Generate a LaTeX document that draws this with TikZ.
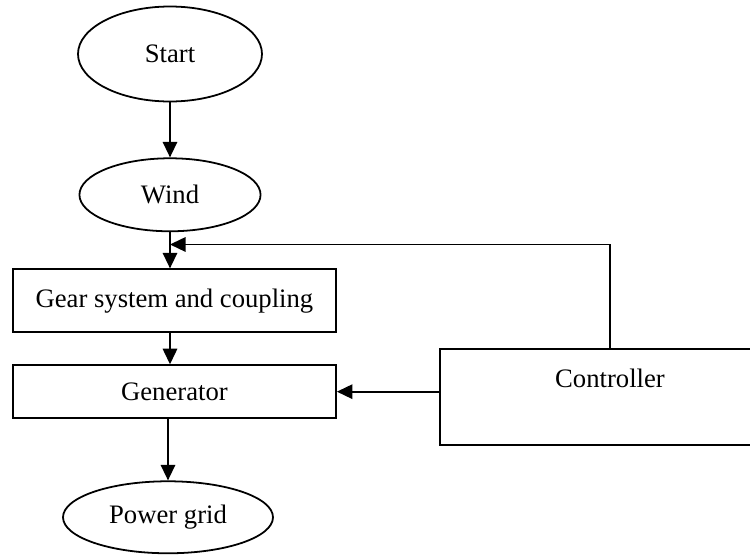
\documentclass[tikz,border=0pt]{standalone}
\usepackage{fontspec}
\setmainfont{Liberation Serif}
\usetikzlibrary{shapes.geometric, arrows.meta, positioning, calc}

\begin{document}
\begin{tikzpicture}[
        node distance=14pt and 46pt,
        >=Triangle,
        font=\fontsize{12}{14}\selectfont,
        oval/.style={ellipse, draw=black, line width=0.8pt, inner sep=0pt},
        box/.style={rectangle, draw=black, line width=0.8pt, inner sep=0pt, minimum width=145.4pt},
        line/.style={-{Triangle[length=7pt, width=6.5pt]}, line width=0.8pt}
    ]
        \useasboundingbox (0,0) rectangle (337.5pt,-249.3pt);

        \node[oval, minimum width=82.8pt, minimum height=42.75pt] (start) at (76.5pt,-24.3pt) {Start};
        \node[oval, minimum width=81.5pt, minimum height=32.85pt, below=24.75pt of start] (wind) {Wind};
        \node[box, minimum height=28.35pt, below=16.3pt of wind, xshift=2pt] (gear) {Gear system and coupling};
        \node[box, minimum height=23.85pt, below=of gear] (gen) {Generator};
        \node[oval, minimum width=94.5pt, minimum height=32.4pt, below=27.6pt of gen, xshift=-2.9pt] (power) {Power grid};
        \node[rectangle, draw=black, line width=0.8pt, inner sep=0pt, minimum width=153pt,
              text height=17.1pt, text depth=26.1pt, right=of gen, yshift=-2.4pt] (ctrl) {Controller};

        \coordinate (fb) at ($(wind.south)!0.34!(wind.south |- gear.north)$);

        \draw[line] (start) -- (wind);
        \draw[line] (wind.south) -- (wind.south |- gear.north);
        \draw[line] (wind.south |- gear.south) -- (wind.south |- gen.north);
        \draw[line] (power.north |- gen.south) -- (power.north);
        \draw[line] (ctrl.west |- gen.east) -- (gen.east);
        \draw[line] (ctrl.north) |- (fb);
    \end{tikzpicture}
\end{document}
